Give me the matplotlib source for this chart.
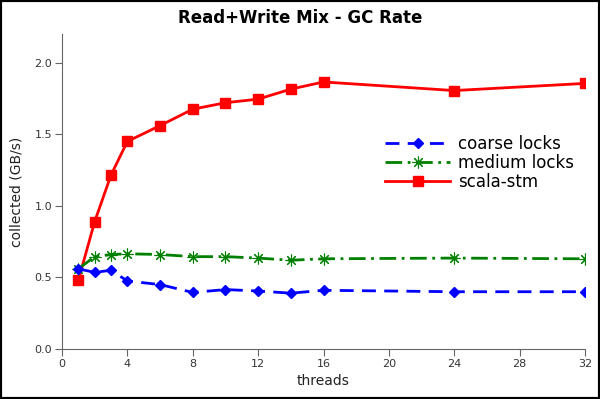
import matplotlib
matplotlib.use("Agg")
import matplotlib.pyplot as plt
from matplotlib.patches import Rectangle

threads = [1, 2, 3, 4, 6, 8, 10, 12, 14, 16, 24, 32]
coarse = [0.56, 0.535, 0.55, 0.475, 0.45, 0.395, 0.415, 0.405, 0.39, 0.41, 0.40, 0.40]
medium = [0.56, 0.645, 0.66, 0.665, 0.66, 0.645, 0.645, 0.635, 0.62, 0.63, 0.635, 0.63]
stm = [0.48, 0.89, 1.215, 1.45, 1.56, 1.675, 1.72, 1.745, 1.815, 1.865, 1.805, 1.855]
xticks = [0, 4, 8, 12, 16, 20, 24, 28, 32]
yticks = [0.0, 0.5, 1.0, 1.5, 2.0]

fig = plt.figure(figsize=(6, 3.99), dpi=100)
ax = fig.add_axes([62/600, 1-349/399, (585-62)/600, (349-34)/399])

ax.plot(threads, stm, color='#ff0000', lw=2, marker='s', ms=7, label='scala-stm', zorder=2)
ax.plot(threads, medium, color='#008000', lw=2, ls=(0, (6, 2, 1, 2)), marker=(8, 2, 0), ms=8.5,
        mew=0.8, label='medium locks', zorder=3)
ax.plot(threads, coarse, color='#0000ff', lw=2, ls=(0, (5, 3)), marker='D', ms=5.5,
        label='coarse locks', zorder=4)

ax.set_xlim(0, 32)
ax.set_ylim(0, 2.2)
ax.set_xticks(xticks)
ax.set_xticklabels([str(t) for t in xticks])
ax.set_yticks(yticks)
ax.set_yticklabels(['%.1f' % t for t in yticks])
for s in ['top', 'right']:
    ax.spines[s].set_visible(False)
for s in ['left', 'bottom']:
    ax.spines[s].set_color('#666666')
ax.tick_params(direction='out', length=5, color='#666666', labelsize=8, labelcolor='#333333', pad=2)
ax.set_xlabel('threads', fontsize=10, color='#222222', labelpad=4)
ax.set_ylabel('collected (GB/s)', fontsize=10, color='#222222', labelpad=8)
fig.suptitle('Read+Write Mix - GC Rate', fontsize=12, fontweight='bold', y=0.977)

h, l = ax.get_legend_handles_labels()
order = [2, 1, 0]
leg = ax.legend([h[i] for i in order], [l[i] for i in order], loc='upper left',
                bbox_to_anchor=(0.605, 0.70), frameon=False, fontsize=12, handlelength=3.9,
                labelspacing=0.05, handletextpad=0.5, borderaxespad=0)

fig.patches.append(Rectangle((0, 0), 1, 1, transform=fig.transFigure, fill=False,
                             edgecolor='black', lw=3, zorder=10))
fig.savefig('out.png', dpi=100)
